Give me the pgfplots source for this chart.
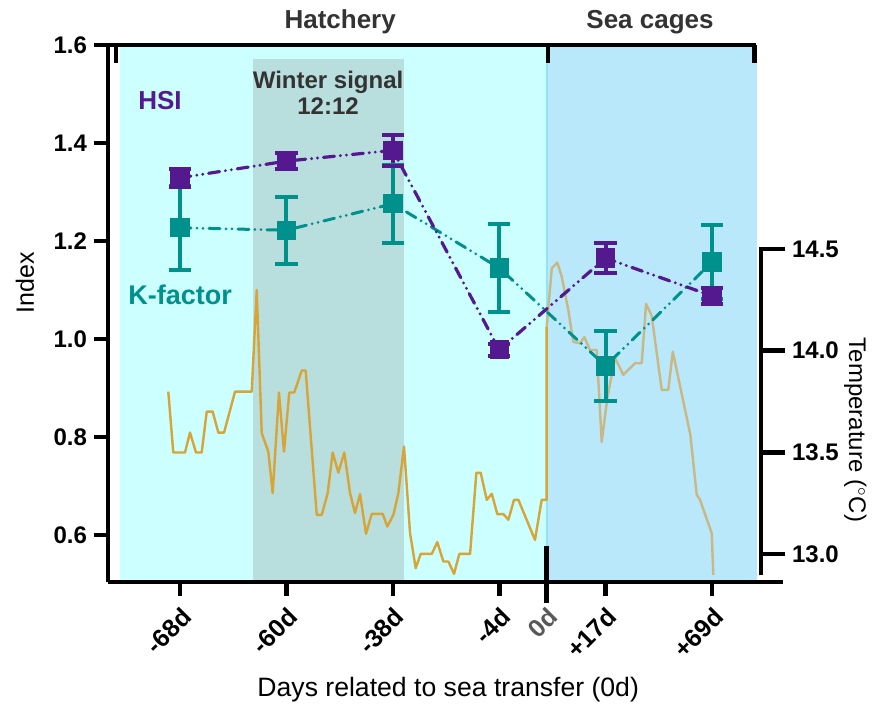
\documentclass[border=0pt]{standalone}
\usepackage{pgfplots}
\pgfplotsset{compat=1.18}
\usepackage{pgfplotstable}
\usepackage{fontspec}
\setmainfont{Liberation Sans}

\definecolor{hatchbg}{HTML}{CCFFFF}
\definecolor{seabg}{HTML}{B9E8FA}
\definecolor{winterbg}{HTML}{B9DEDE}
\definecolor{seaedge}{HTML}{8EE5F5}
\definecolor{hsi}{HTML}{54198F}
\definecolor{kfac}{HTML}{00918D}
\definecolor{tempgold}{HTML}{D6A437}
\definecolor{temptan}{HTML}{C9B785}
\definecolor{labelgray}{HTML}{333333}

% Sampling days: -68d, -60d, -38d, -4d, +17d, +69d at 0..5; transfer (0d) at 3.445
\pgfplotstableread{
x y e
0 1.329 0.018
1 1.363 0.016
2 1.385 0.032
3 0.978 0.012
4 1.165 0.030
5 1.088 0.016
}\hsidata

\pgfplotstableread{
x y e
0 1.227 0.086
1 1.222 0.068
2 1.276 0.080
3 1.145 0.090
4 0.945 0.072
5 1.157 0.076
}\kfacdata

% Water temperature, hatchery period
\pgfplotstableread{
x T
-0.110 13.798
-0.063 13.499
0.047 13.499
0.094 13.597
0.150 13.499
0.204 13.499
0.251 13.700
0.307 13.700
0.360 13.597
0.414 13.597
0.517 13.798
0.674 13.798
0.721 14.298
0.768 13.594
0.830 13.503
0.871 13.299
0.930 13.794
0.977 13.503
1.027 13.794
1.074 13.794
1.144 13.902
1.181 13.902
1.285 13.192
1.332 13.192
1.388 13.299
1.435 13.499
1.488 13.400
1.544 13.499
1.598 13.299
1.645 13.201
1.692 13.294
1.748 13.099
1.802 13.197
1.905 13.197
1.948 13.135
2.005 13.192
2.052 13.299
2.105 13.528
2.162 13.102
2.215 12.930
2.262 13.000
2.366 13.000
2.418 13.058
2.475 12.963
2.522 12.963
2.575 12.902
2.625 13.000
2.726 13.000
2.785 13.399
2.826 13.399
2.883 13.266
2.930 13.296
2.982 13.196
3.039 13.196
3.086 13.168
3.139 13.266
3.180 13.266
3.336 13.069
3.399 13.266
3.446 13.266
3.446 14.118
}\temphatch

% Water temperature, sea cage period
\pgfplotstableread{
x T
3.446 14.118
3.494 14.405
3.546 14.433
3.587 14.364
3.649 14.200
3.696 14.043
3.759 14.036
3.800 14.066
3.853 14.003
3.916 14.003
3.963 13.551
4.016 13.767
4.088 13.964
4.166 13.881
4.276 13.938
4.339 13.938
4.380 14.230
4.433 14.171
4.527 13.807
4.589 13.807
4.631 13.995
4.683 13.866
4.796 13.586
4.856 13.291
4.887 13.266
4.997 13.102
5.012 12.897
}\tempsea

\pgfplotsset{
  errcap/.style={only marks, mark=-, mark size=5.6pt,
    mark options={solid, line width=2pt, line cap=butt}},
}

\begin{document}
\begin{tikzpicture}
% ---------- temperature axis (right) with the period shading ----------
\begin{axis}[
  scale only axis, width=326.5pt, height=268.5pt,
  xmin=-0.6767, xmax=5.46,
  ymin=12.862, ymax=15.503,
  axis x line=none,
  axis y line*=right,
  y axis line style={draw=none},
  ytick={13,13.5,14,14.5},
  yticklabels={13.0,13.5,14.0,14.5},
  tick align=outside,
  major tick length=12pt,
  ytick style={line width=2.4pt, black},
  yticklabel style={font=\bfseries\fontsize{12}{14}\selectfont, black},
  clip=false,
]
  \fill[hatchbg] (axis cs:-0.564,12.862) rectangle (axis cs:3.445,15.503);
  \fill[seabg] (axis cs:3.445,12.862) rectangle (axis cs:5.423,15.503);
  \fill[winterbg] (axis cs:0.686,12.862) rectangle (axis cs:2.105,15.434);
  \draw[seaedge, line width=0.8pt] (axis cs:3.45,12.862) -- (axis cs:3.45,15.503);
  \draw[line width=2.4pt, black] (axis cs:5.46,12.895) -- (axis cs:5.46,14.512);
  \addplot[tempgold, line width=1.2pt, line join=round] table[x=x, y=T] {\temphatch};
  \addplot[temptan, line width=1.2pt, line join=round] table[x=x, y=T] {\tempsea};
\end{axis}

% ---------- index axis (left) ----------
\begin{axis}[
  scale only axis, width=337.5pt, height=268.5pt,
  xmin=-0.6767, xmax=5.667,
  ymin=0.504, ymax=1.6,
  axis x line*=bottom, axis y line*=left,
  axis line style={line width=2.3pt, black, -},
  xtick={0,1,2,3,3.445,4,5},
  xticklabels={-68d,-60d,-38d,-4d,{\color{black!65}0d},+17d,+69d},
  ytick={0.6,0.8,1.0,1.2,1.4,1.6},
  yticklabels={0.6,0.8,1.0,1.2,1.4,1.6},
  tick align=outside, major tick length=7pt,
  tick style={line width=2.3pt, black},
  xticklabel style={rotate=45, anchor=north east, font=\bfseries\fontsize{12.5}{14}\selectfont, black},
  yticklabel style={font=\bfseries\fontsize{12}{14}\selectfont, black},
  clip=false,
]
  % period bracket along the top
  \draw[line width=2.3pt, black, line cap=butt]
    (axis cs:-0.6767,1.6) -- (axis cs:5.414,1.6);
  \draw[line width=2.3pt, black] (axis cs:-0.602,1.6) -- (axis cs:-0.602,1.563);
  \draw[line width=2.3pt, black] (axis cs:3.46,1.6) -- (axis cs:3.46,1.563);
  \draw[line width=2.3pt, black] (axis cs:5.40,1.6) -- (axis cs:5.40,1.563);
  % sea transfer marker
  \draw[line width=2.6pt, black] (axis cs:3.445,0.578) -- ([yshift=-10.5pt]axis cs:3.445,0.504);

  % K-factor: error caps, then the series with its bars
  \addplot[kfac, errcap] table[x=x, y expr=\thisrow{y}+\thisrow{e}] {\kfacdata};
  \addplot[kfac, errcap] table[x=x, y expr=\thisrow{y}-\thisrow{e}] {\kfacdata};
  \addplot[kfac, line width=1.5pt, line cap=round,
    dash pattern=on 5.5pt off 3pt on 0pt off 3pt on 0pt off 3pt,
    mark=square*, mark size=4.6pt, mark options={solid, line width=0.5pt},
    error bars/.cd, y dir=both, y explicit, error mark=none,
    error bar style={line width=2pt, solid, line cap=butt}]
    table[x=x, y=y, y error=e] {\kfacdata};

  % HSI: error caps, then the series with its bars
  \addplot[hsi, errcap] table[x=x, y expr=\thisrow{y}+\thisrow{e}] {\hsidata};
  \addplot[hsi, errcap] table[x=x, y expr=\thisrow{y}-\thisrow{e}] {\hsidata};
  \addplot[hsi, line width=1.6pt, line cap=round,
    dash pattern=on 5.5pt off 3pt on 0pt off 3pt on 0pt off 3pt,
    mark=square*, mark size=4.6pt, mark options={solid, line width=0.5pt},
    error bars/.cd, y dir=both, y explicit, error mark=none,
    error bar style={line width=2pt, solid, line cap=butt}]
    table[x=x, y=y, y error=e] {\hsidata};

  % labels
  \node[font=\bfseries\fontsize{13}{15}\selectfont, labelgray] at (axis description cs:0.344,1.043) {Hatchery};
  \node[font=\bfseries\fontsize{13}{15}\selectfont, labelgray] at (axis description cs:0.803,1.043) {Sea cages};
  \node[font=\bfseries\fontsize{12}{13}\selectfont, labelgray, align=center] at (axis description cs:0.326,0.911) {Winter signal\\12:12};
  \node[font=\bfseries\fontsize{13}{15}\selectfont, hsi] at (axis description cs:0.077,0.896) {HSI};
  \node[font=\bfseries\fontsize{13.5}{15}\selectfont, kfac] at (axis description cs:0.107,0.534) {K-factor};
  \node[font=\fontsize{12.5}{14}\selectfont, rotate=90] at (axis description cs:-0.123,0.557) {Index};
  \node[font=\fontsize{13.3}{15}\selectfont] at (axis description cs:0.504,-0.201) {Days related to sea transfer (0d)};
  \node[font=\fontsize{12}{14}\selectfont, rotate=-90] at (axis description cs:1.107,0.283) {Temperature ($^\circ$C)};

  % page extent
  \path (-54pt,291pt) rectangle (383.5pt,-60.5pt);
\end{axis}
\end{tikzpicture}
\end{document}
